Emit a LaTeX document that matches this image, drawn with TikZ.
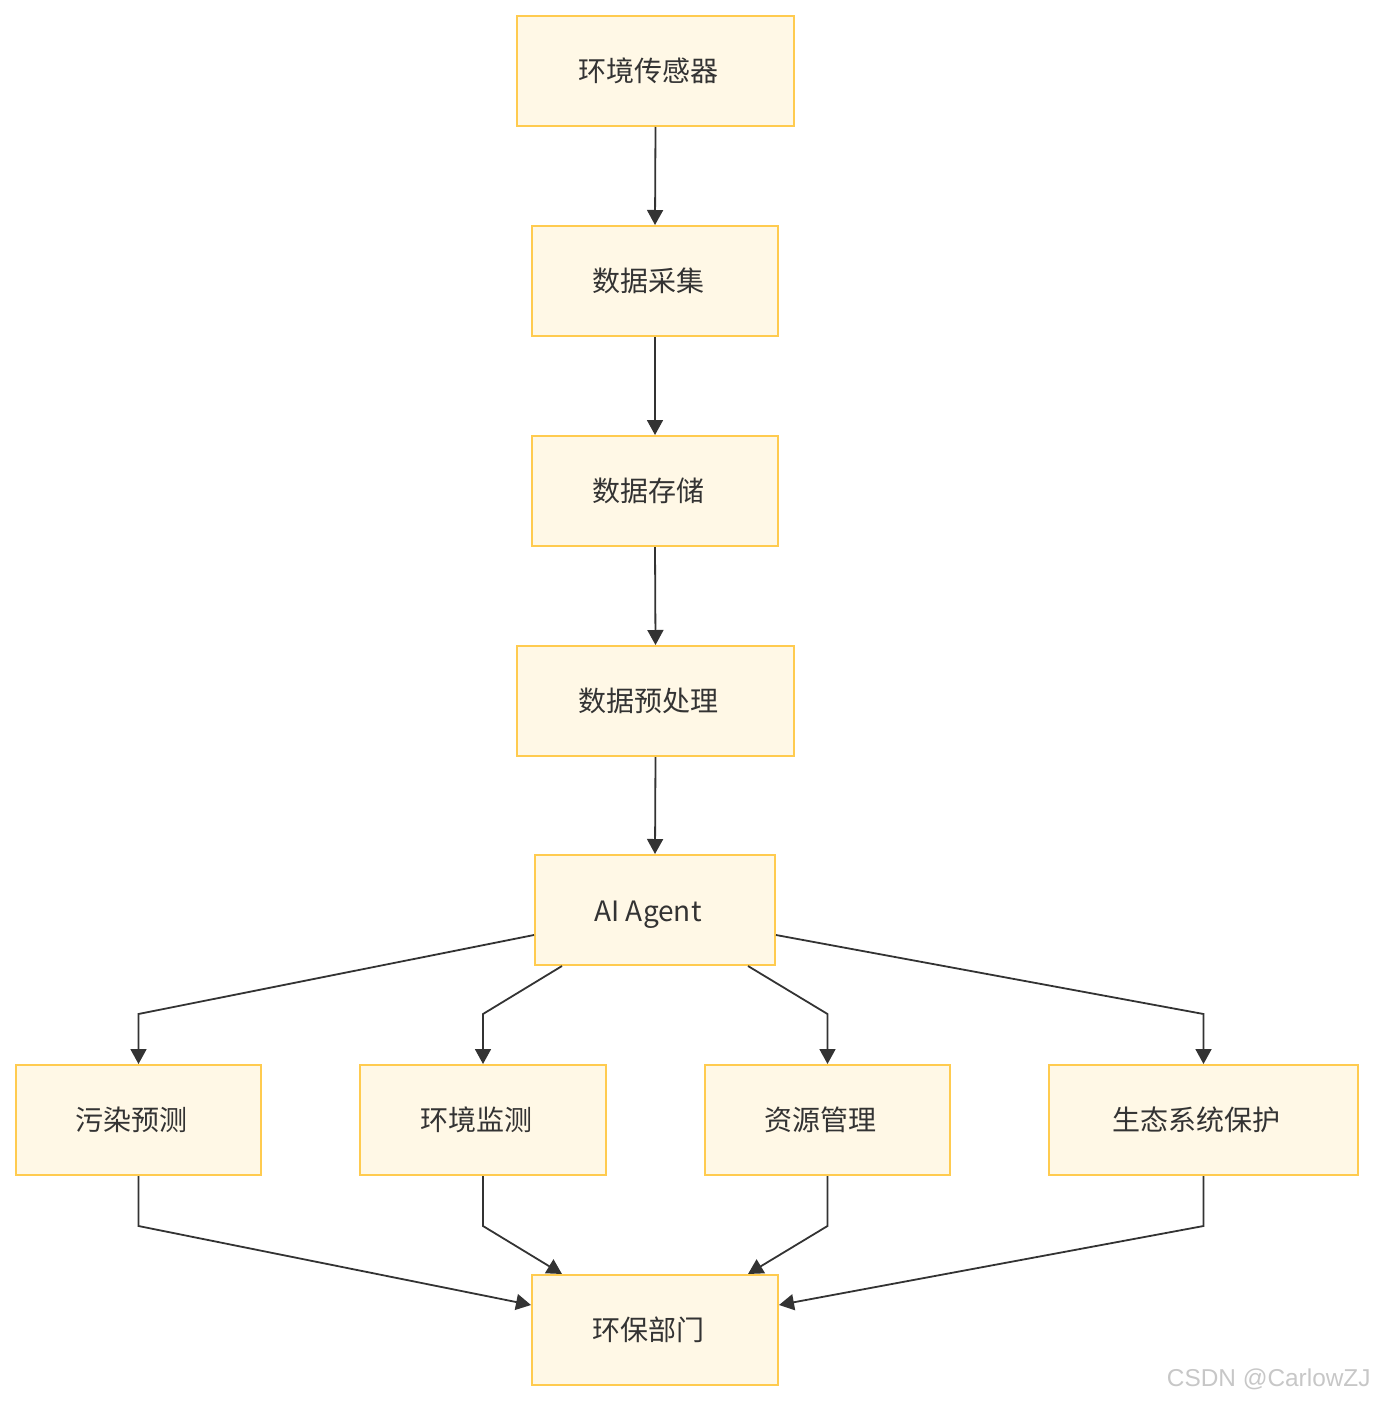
\documentclass[tikz,border=0pt]{standalone}
\usepackage{fontspec}
\setmainfont{Noto Sans CJK SC}
\newfontfamily\wmfont{Liberation Sans}
\usetikzlibrary{arrows.meta,calc}
\definecolor{boxfill}{HTML}{FFF8E6}
\definecolor{boxline}{HTML}{FFCB4F}
\definecolor{edgecol}{HTML}{333333}
\definecolor{txtcol}{HTML}{333333}
\begin{document}
\begin{tikzpicture}[x=0.5pt,y=-0.5pt,
  flowbox/.style={draw=boxline,fill=boxfill,line width=1pt,minimum height=55pt,
    inner sep=0pt,font=\fontsize{14pt}{16pt}\selectfont,text=txtcol},
  arr/.style={draw=edgecol,line width=0.9pt,-{Triangle[length=7.5pt,width=8pt]}}]
\useasboundingbox (0,0) rectangle (1374,1402);
\node[flowbox,minimum width=138.5pt] (s1) at (655.5,71) {环境传感器\hspace*{7pt}};
\node[flowbox,minimum width=123pt] (s2) at (655,281) {数据采集\hspace*{7pt}};
\node[flowbox,minimum width=123pt] (s3) at (655,491) {数据存储\hspace*{7pt}};
\node[flowbox,minimum width=138.5pt] (s4) at (655.5,701) {数据预处理\hspace*{7pt}};
\node[flowbox,minimum width=120pt] (ai) at (655,910) {\raisebox{-2.5pt}[\height][\depth]{AI Agent}\hspace*{7pt}};
\node[flowbox,minimum width=122.5pt] (p1) at (138.5,1120) {污染预测\hspace*{7pt}};
\node[flowbox,minimum width=123pt] (p2) at (483,1120) {环境监测\hspace*{7pt}};
\node[flowbox,minimum width=122.5pt] (p3) at (827.5,1120) {资源管理\hspace*{7pt}};
\node[flowbox,minimum width=154.5pt] (p4) at (1203.5,1120) {生态系统保护\hspace*{7pt}};
\node[flowbox,minimum width=123pt] (hb) at (655,1330) {环保部门\hspace*{7pt}};
\node[anchor=east,inner sep=0pt,font=\wmfont\fontsize{12.2pt}{14pt}\selectfont,text=black!22] (wm) at (1371,1379) {CSDN @CarlowZJ};

\draw[arr] (s1.south) -- (s2.north);
\draw[arr] (s2.south) -- (s3.north);
\draw[arr] (s3.south) -- (s4.north);
\draw[arr] (s4.south) -- (ai.north);

\draw[arr] ([yshift=-12.5pt]ai.west) -- ($(p1.north)+(0,-50)$) -- (p1.north);
\draw[arr] ([xshift=14pt]ai.south west) -- ($(p2.north)+(0,-50)$) -- (p2.north);
\draw[arr] ([xshift=-14pt]ai.south east) -- ($(p3.north)+(0,-50)$) -- (p3.north);
\draw[arr] ([yshift=-12.5pt]ai.east) -- ($(p4.north)+(0,-50)$) -- (p4.north);

\draw[arr] (p1.south) -- ($(p1.south)+(0,50)$) -- ([yshift=12.5pt]hb.west);
\draw[arr] (p2.south) -- ($(p2.south)+(0,50)$) -- ([xshift=15.5pt]hb.north west);
\draw[arr] (p3.south) -- ($(p3.south)+(0,50)$) -- ([xshift=-15.5pt]hb.north east);
\draw[arr] (p4.south) -- ($(p4.south)+(0,50)$) -- ([yshift=12.5pt]hb.east);
\end{tikzpicture}
\end{document}
